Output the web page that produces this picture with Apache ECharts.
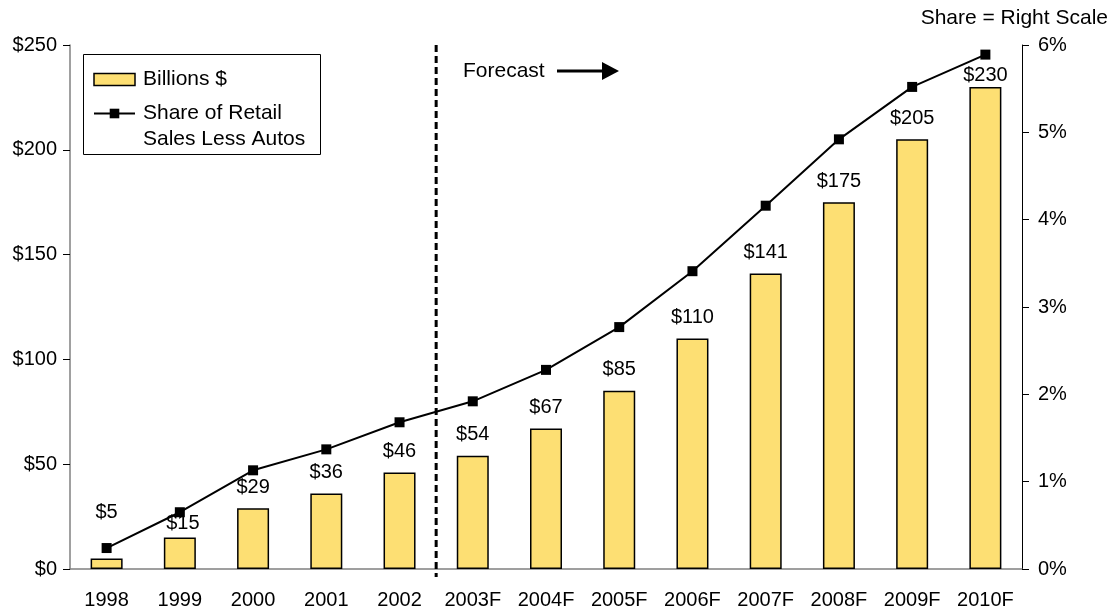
<!DOCTYPE html>
<html><head><meta charset="utf-8">
<script src="https://cdn.jsdelivr.net/npm/echarts@6/dist/echarts.min.js"></script>
<style>html,body{margin:0;padding:0;background:#fff}#c{width:1116px;height:612px}</style>
</head><body><div id="c"></div>
<script>
const categories = ['1998','1999','2000','2001','2002','2003F','2004F','2005F','2006F','2007F','2008F','2009F','2010F'];
const billions = [5, 15, 29, 36, 46, 54, 67, 85, 110, 141, 175, 205, 230];
const sharePct = [0.24, 0.65, 1.13, 1.37, 1.68, 1.92, 2.28, 2.77, 3.41, 4.16, 4.92, 5.52, 5.89];
const forecastStartIndex = 5;

const FONT = '"Liberation Sans", Arial, sans-serif';
const FS = 20;
const FS2 = 21;
const chart = echarts.init(document.getElementById('c'), null, {renderer: 'canvas'});

const labelOverrides = {0: {distance: 36}, 1: {distance: 4, offset: [3, 0]}, 12: {distance: 1}};
const barData = billions.map((v, i) => {
  const d = {value: v};
  if (labelOverrides[i]) d.label = labelOverrides[i];
  return d;
});

chart.setOption({
  animation: false,
  textStyle: {fontFamily: FONT},
  grid: {left: 70, right: 94, top: 45, bottom: 43},
  legend: {
    orient: 'vertical', left: 83, top: 69,
    itemWidth: 41, itemHeight: 12, itemGap: 13,
    padding: [0, 0, 0, 10],
    textStyle: {fontSize: FS2, color: '#000', fontFamily: FONT, lineHeight: 20, padding: [0, 0, 0, 3]},
    data: [
      {name: 'Billions $', icon: 'rect', itemStyle: {color: '#FDDF73', borderColor: '#000', borderWidth: 1.5}},
      {name: 'Share of Retail'}
    ]
  },
  graphic: [
    {type: 'text', id: 'shareNote', right: 8, top: 8, style: {text: 'Share = Right Scale', fill: '#000', font: FS2 + 'px ' + FONT}},
    {type: 'text', id: 'fcText', left: 463, top: 61, style: {text: 'Forecast', fill: '#000', font: FS2 + 'px ' + FONT}},
    {type: 'line', id: 'fcArrowLine', shape: {x1: 557, y1: 71, x2: 604, y2: 71}, style: {stroke: '#000', lineWidth: 3}},
    {type: 'polygon', id: 'fcArrowHead', shape: {points: [[602, 62], [619, 71], [602, 80]]}, style: {fill: '#000'}},
    {type: 'text', id: 'legendLine2', left: 143, top: 129, style: {text: 'Sales Less Autos', fill: '#000', font: FS2 + 'px ' + FONT}},
    {type: 'rect', id: 'legendBox', shape: {x: 83.5, y: 54.5, width: 237, height: 100}, style: {fill: 'none', stroke: '#000', lineWidth: 1}, z: 100}
  ],
  xAxis: {
    type: 'category', data: categories,
    axisLine: {lineStyle: {color: '#808080', width: 1.5}},
    axisTick: {length: 7, lineStyle: {color: '#000'}},
    axisLabel: {fontSize: FS, color: '#000', margin: 21, fontFamily: FONT, interval: 0}
  },
  yAxis: [
    {type: 'value', min: 0, max: 250, interval: 50,
     splitLine: {show: false},
     axisLine: {show: true, lineStyle: {color: '#808080', width: 1.5}},
     axisTick: {show: true, length: 7, lineStyle: {color: '#000'}},
     axisLabel: {fontSize: FS, color: '#000', margin: 13, fontFamily: FONT, formatter: '${value}'}},
    {type: 'value', min: 0, max: 6, interval: 1, position: 'right',
     splitLine: {show: false},
     axisLine: {show: true, lineStyle: {color: '#000', width: 1}},
     axisTick: {show: true, length: 7, lineStyle: {color: '#000'}},
     axisLabel: {fontSize: FS, color: '#000', margin: 16, fontFamily: FONT, formatter: '{value}%'}}
  ],
  series: [
    {name: 'Billions $', type: 'bar', yAxisIndex: 0, barWidth: 32, data: barData,
     itemStyle: {color: '#FDDF73', borderColor: '#000', borderWidth: 1.5},
     label: {show: true, position: 'top', distance: 11, fontSize: FS, color: '#000', fontFamily: FONT, formatter: '${c}'}},
    {name: 'Share of Retail', type: 'line', yAxisIndex: 1, data: sharePct,
     symbol: 'rect', symbolSize: 10,
     lineStyle: {color: '#000', width: 2}, itemStyle: {color: '#000'}, z: 5}
  ]
});

// dashed forecast divider between last actual and first forecast category
const p0 = chart.convertToPixel({xAxisIndex: 0}, forecastStartIndex - 1);
const p1 = chart.convertToPixel({xAxisIndex: 0}, forecastStartIndex);
const xDiv = (p0 + p1) / 2;
const yTop = chart.convertToPixel({yAxisIndex: 0}, 250);
const yBot = chart.convertToPixel({yAxisIndex: 0}, 0) + 8;
chart.setOption({graphic: [
  {type: 'line', id: 'divider', shape: {x1: xDiv, y1: yTop, x2: xDiv, y2: yBot}, style: {stroke: '#000', lineWidth: 3, lineDash: [7, 4]}, z: 50}
]});
</script></body></html>
